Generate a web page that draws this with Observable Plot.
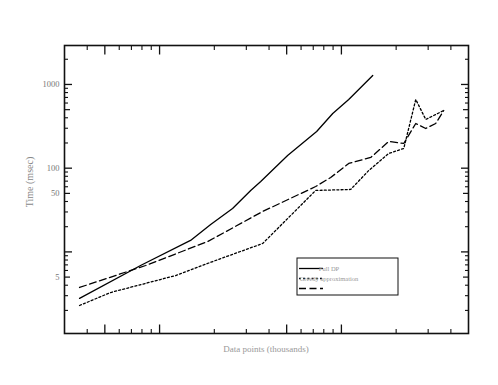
<!DOCTYPE html>
<html>
<head>
<meta charset="utf-8">
<script src="https://cdn.jsdelivr.net/npm/d3@7"></script>
<script src="https://cdn.jsdelivr.net/npm/@observablehq/plot@0.6"></script>
<style>
  html, body { margin: 0; padding: 0; background: #fff; }
  #chart { width: 498px; height: 385px; }
</style>
</head>
<body>
<div id="chart"></div>
<script>
// ---- data ----
const seriesNames = ["Full DP", "Greedy approximation", ""];
const fullX   = [3.63, 7.86, 14.8, 19.1, 25.2, 31.7, 36.0, 50.6, 73.1, 89.6, 109.7, 148.7];
const fullY   = [2.78, 6.88, 13.7, 21.3, 33.0, 54.2, 69.4, 141.8, 274.5, 450, 662, 1281];
const greedyX = [3.63, 5.37, 12.25, 20.3, 36.9, 72.2, 112.5, 141.4, 182.1, 220.3, 256.4, 291, 338.8, 365.6];
const greedyY = [2.29, 3.27, 5.22, 7.89, 12.6, 54.2, 55.7, 93.9, 149.8, 172, 662, 381.7, 450, 489];
const thirdX  = [3.63, 8.38, 18.4, 36.9, 72.2, 87.3, 109.7, 145.0, 182.1, 220.3, 256.4, 291, 330, 365.6];
const thirdY  = [3.76, 6.88, 13.3, 30.4, 60.4, 77.4, 113.8, 134.2, 208.4, 197.3, 342, 298, 342, 489];

const xMajor = [5, 10, 50, 100];
const xMinor = [4, 6, 7, 8, 9, 20, 30, 40, 60, 70, 80, 90, 200, 300, 400];
const yMajor = [10, 100, 1000];
const yMid   = [5, 50, 500];
const yMinor = [2, 3, 4, 6, 7, 8, 9, 20, 30, 40, 60, 70, 80, 90, 200, 300, 400, 600, 700, 800, 900, 2000];
const yLabels = [5, 50, 100, 1000];
const xTitle = "Data points (thousands)";
const yTitle = "Time (msec)";

const styles = [
  {dash: null},
  {dash: "2,2.2"},
  {dash: "7,3.5"}
];
const seriesX = [fullX, greedyX, thirdX];
const seriesY = [fullY, greedyY, thirdY];
const rows = [];
seriesX.forEach((xs, i) => xs.forEach((x, j) => rows.push({s: i, x, y: seriesY[i][j]})));

const serif = "'Liberation Serif', 'DejaVu Serif', serif";
const tickStroke = "#111";

const marks = [];
// lines
styles.forEach((st, i) => {
  marks.push(Plot.line(rows.filter(r => r.s === i), {
    x: "x", y: "y", stroke: "black", strokeWidth: 1.3,
    strokeDasharray: st.dash, curve: "linear"
  }));
});
// ticks (inward) on all four sides
for (const anchor of ["bottom", "top"]) {
  marks.push(Plot.axisX(xMajor, {anchor, tickSize: -8.5, fill: "none", stroke: tickStroke, strokeWidth: 1.3, label: null}));
  marks.push(Plot.axisX(xMinor, {anchor, tickSize: -4, fill: "none", stroke: tickStroke, strokeWidth: 1.1, label: null}));
}
for (const anchor of ["left", "right"]) {
  marks.push(Plot.axisY(yMajor, {anchor, tickSize: -8, fill: "none", stroke: tickStroke, strokeWidth: 1.3, label: null}));
  marks.push(Plot.axisY(yMid, {anchor, tickSize: -6, fill: "none", stroke: tickStroke, strokeWidth: 1.2, label: null}));
  marks.push(Plot.axisY(yMinor, {anchor, tickSize: -4, fill: "none", stroke: tickStroke, strokeWidth: 1.1, label: null}));
}
// left tick labels
marks.push(Plot.text(yLabels, {
  y: d => d, text: d => String(d), frameAnchor: "left", dx: -5, textAnchor: "end",
  fill: "#777", fontSize: 8.5, fontFamily: serif
}));
marks.push(Plot.frame({stroke: "#111", strokeWidth: 1.6}));

const chart = Plot.plot({
  width: 498,
  height: 385,
  marginLeft: 64,
  marginRight: 30,
  marginTop: 45,
  marginBottom: 52,
  style: {background: "white", fontFamily: serif},
  x: {type: "log", domain: [3, 500], axis: null},
  y: {type: "log", domain: [1.06, 2920], axis: null},
  marks
});
document.getElementById("chart").appendChild(chart);

// titles and legend
const svg = d3.select(chart);
svg.append("text")
  .attr("x", 266).attr("y", 352)
  .attr("text-anchor", "middle")
  .attr("font-family", serif).attr("font-size", 9)
  .attr("fill", "#999")
  .text(xTitle);
svg.append("text")
  .attr("transform", "translate(33,182) rotate(-90)")
  .attr("text-anchor", "middle")
  .attr("font-family", serif).attr("font-size", 10)
  .attr("fill", "#888")
  .text(yTitle);

const lg = svg.append("g");
lg.append("rect").attr("x", 297).attr("y", 258).attr("width", 101).attr("height", 37)
  .attr("fill", "white").attr("stroke", "#111").attr("stroke-width", 1);
styles.forEach((st, i) => {
  const yy = 268.5 + i * 10;
  lg.append("line").attr("x1", 299).attr("x2", 323).attr("y1", yy).attr("y2", yy)
    .attr("stroke", "black").attr("stroke-width", 1.3)
    .attr("stroke-dasharray", st.dash);
  if (seriesNames[i]) {
    lg.append("text").attr("x", 329).attr("y", yy + 2)
      .attr("font-family", serif).attr("font-size", 6.5).attr("fill", "#999")
      .text(seriesNames[i]);
  }
});
</script>
</body>
</html>
